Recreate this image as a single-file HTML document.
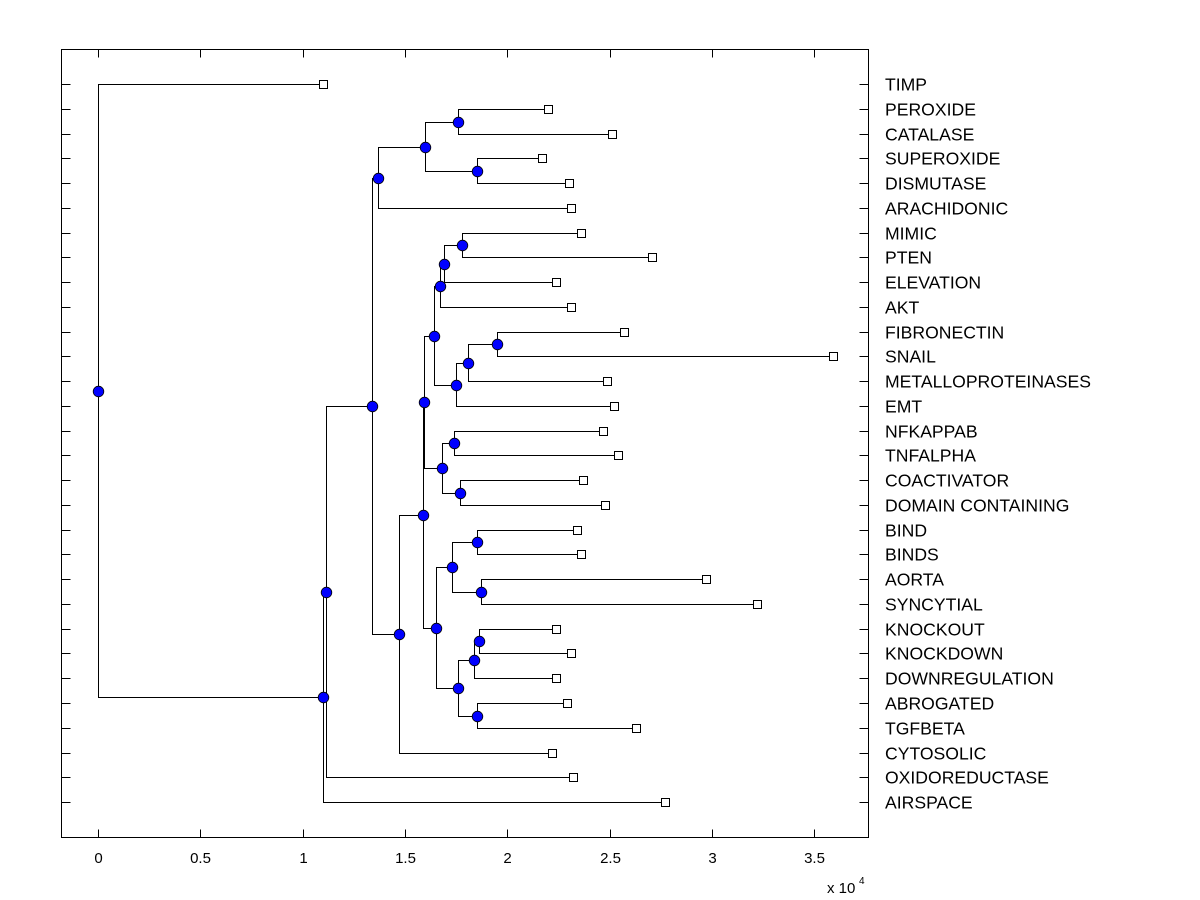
<!DOCTYPE html>
<html><head><meta charset="utf-8"><style>
html,body{margin:0;padding:0;background:#fff;}
svg{display:block;font-family:"Liberation Sans",Arial,sans-serif;}
</style></head><body>
<svg id="chart" width="1200" height="900" viewBox="0 0 1200 900" xmlns="http://www.w3.org/2000/svg">
<rect x="0" y="0" width="1200" height="900" fill="#fff"/>
<g id="plot"></g>
</svg>
<script>
const leafNames = ["TIMP","PEROXIDE","CATALASE","SUPEROXIDE","DISMUTASE","ARACHIDONIC","MIMIC","PTEN","ELEVATION","AKT","FIBRONECTIN","SNAIL","METALLOPROTEINASES","EMT","NFKAPPAB","TNFALPHA","COACTIVATOR","DOMAIN CONTAINING","BIND","BINDS","AORTA","SYNCYTIAL","KNOCKOUT","KNOCKDOWN","DOWNREGULATION","ABROGATED","TGFBETA","CYTOSOLIC","OXIDOREDUCTASE","AIRSPACE"];
const leafValues = [1.10,2.20,2.51,2.17,2.30,2.31,2.36,2.71,2.24,2.31,2.57,3.59,2.49,2.52,2.47,2.54,2.37,2.48,2.34,2.36,2.97,3.22,2.24,2.31,2.24,2.29,2.63,2.22,2.32,2.77];
const nodeHeights = [1.76,1.85,1.60,1.37,1.78,1.69,1.67,1.95,1.81,1.75,1.64,1.74,1.77,1.68,1.595,1.85,1.87,1.73,1.86,1.84,1.85,1.76,1.65,1.59,1.47,1.34,1.115,1.10,0];
const nodeChildren = [["PEROXIDE","CATALASE"],["SUPEROXIDE","DISMUTASE"],[0,1],[2,"ARACHIDONIC"],["MIMIC","PTEN"],[4,"ELEVATION"],[5,"AKT"],["FIBRONECTIN","SNAIL"],[7,"METALLOPROTEINASES"],[8,"EMT"],[6,9],["NFKAPPAB","TNFALPHA"],["COACTIVATOR","DOMAIN CONTAINING"],[11,12],[10,13],["BIND","BINDS"],["AORTA","SYNCYTIAL"],[15,16],["KNOCKOUT","KNOCKDOWN"],[18,"DOWNREGULATION"],["ABROGATED","TGFBETA"],[19,20],[17,21],[14,22],[23,"CYTOSOLIC"],[3,24],[25,"OXIDOREDUCTASE"],[26,"AIRSPACE"],["TIMP",27]];
const xTicks = [0,0.5,1,1.5,2,2.5,3,3.5];
const xTickLabels = ["0","0.5","1","1.5","2","2.5","3","3.5"];

const L=61.5,R=868.5,T=49.5,B=837.5;
const x = v => Math.round(98 + v*204.6)+0.5;
const yLeaf = i => Math.round(84 + i*24.76)+0.5;
const g = document.getElementById('plot');
const NS="http://www.w3.org/2000/svg";
function mk(tag, attrs){const e=document.createElementNS(NS,tag);for(const k in attrs)e.setAttribute(k,attrs[k]);g.appendChild(e);return e;}

const box = mk('rect',{x:L,y:T,width:R-L,height:B-T,fill:'none',stroke:'#000','stroke-width':1});


leafNames.forEach((n,i)=>{
  const yy=yLeaf(i);
  const t1=mk('line',{x1:L,y1:yy,x2:L+9,y2:yy,stroke:'#000'});
  
  
  const t2=mk('line',{x1:R-9,y1:yy,x2:R,y2:yy,stroke:'#000'});
  
  
  const tx=mk('text',{x:885,y:yy+6,'font-size':17.6,fill:'#000'});
  tx.textContent=n;
  
  
});
xTicks.forEach((v,i)=>{
  const xx=x(v);
  const a=mk('line',{x1:xx,y1:B,x2:xx,y2:B-8,stroke:'#000'});
  
  
  const b=mk('line',{x1:xx,y1:T,x2:xx,y2:T+8,stroke:'#000'});
  
  
  const tl=mk('text',{x:xx,y:863,'font-size':15,'text-anchor':'middle',fill:'#000'});
  tl.textContent=xTickLabels[i];
  
  
});
const ex=mk('text',{x:827,y:893,'font-size':15,fill:'#000'});
ex.textContent='x 10';


const ex2=mk('text',{x:859,y:884,'font-size':10,fill:'#000'});
ex2.textContent='4';



const nodeY=[];
function pos(c){
  if(typeof c==='string'){const i=leafNames.indexOf(c);return {x:x(leafValues[i]),y:yLeaf(i)};}
  return {x:x(nodeHeights[c]),y:nodeY[c]};
}
nodeChildren.forEach((ch,k)=>{nodeY[k]=Math.round((pos(ch[0]).y+pos(ch[1]).y)/2-0.5)+0.5;});
nodeChildren.forEach((ch,k)=>{
  const nx=x(nodeHeights[k]);
  const a=pos(ch[0]),b=pos(ch[1]);
  const p=mk('path',{d:`M${a.x},${a.y}H${nx}V${b.y}H${b.x}`,fill:'none',stroke:'#000','stroke-width':1});
  
  
});
leafNames.forEach((n,i)=>{
  const s=mk('rect',{x:x(leafValues[i])-4,y:yLeaf(i)-4,width:8,height:8,fill:'#fff',stroke:'#000'});
  
  
});
nodeChildren.forEach((ch,k)=>{
  const c=mk('circle',{cx:x(nodeHeights[k]),cy:nodeY[k],r:5.3,fill:'#0000ff',stroke:'#000','stroke-width':0.8});
  
  
});
</script>
</body></html>
